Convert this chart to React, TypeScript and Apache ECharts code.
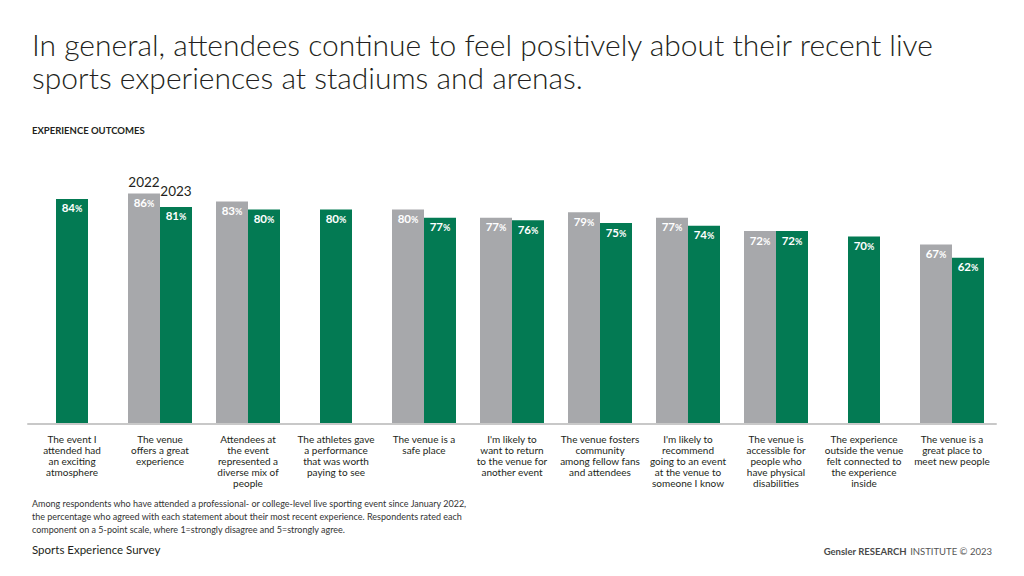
import React, { useEffect, useRef } from "react";
import * as echarts from "echarts";

const categories = [
  "The event I\nattended had\nan exciting\natmosphere",
  "The venue\noffers a great\nexperience",
  "Attendees at\nthe event\nrepresented a\ndiverse mix of\npeople",
  "The athletes gave\na performance\nthat was worth\npaying to see",
  "The venue is a\nsafe place",
  "I'm likely to\nwant to return\nto the venue for\nanother event",
  "The venue fosters\ncommunity\namong fellow fans\nand attendees",
  "I'm likely to\nrecommend\ngoing to an event\nat the venue to\nsomeone I know",
  "The venue is\naccessible for\npeople who\nhave physical\ndisabilities",
  "The experience\noutside the venue\nfelt connected to\nthe experience\ninside",
  "The venue is a\ngreat place to\nmeet new people",
];
const values2022: (number | null)[] = [null, 86, 83, null, 80, 77, 79, 77, 72, null, 67];
const values2023: number[] = [84, 81, 80, 80, 77, 76, 75, 74, 72, 70, 62];
const seriesNames = ["2022", "2023"];

const titleLines = [
  "In general, attendees continue to feel positively about their recent live",
  "sports experiences at stadiums and arenas.",
];
const subtitle = "EXPERIENCE OUTCOMES";
const noteLines = [
  "Among respondents who have attended a professional- or college-level live sporting event since January 2022,",
  "the percentage who agreed with each statement about their most recent experience. Respondents rated each",
  "component on a 5-point scale, where 1=strongly disagree and 5=strongly agree.",
];
const sourceText = "Sports Experience Survey";
const creditBold = "Gensler RESEARCH";
const creditRegular = "INSTITUTE © 2023";

const GREEN = "#037a53";
const GRAY = "#a7a8ab";
const INK = "#231f20";
const FONT = "Lato, 'Open Sans', sans-serif";

export default function App() {
  const ref = useRef<HTMLDivElement>(null);

  useEffect(() => {
    const chart = echarts.init(ref.current!, null, { renderer: "svg" });
    const paired2023 = values2023.map((v, i) => (values2022[i] == null ? null : v));
    const single2023 = values2023.map((v, i) => (values2022[i] == null ? v : null));

    const barLabel = {
      show: true,
      position: "insideTop",
      distance: 3,
      formatter: "{v|{c}}{p|%}",
      rich: {
        v: { fontSize: 11.5, fontWeight: "bold", color: "#fff", fontFamily: FONT },
        p: { fontSize: 9, fontWeight: "bold", color: "#fff", fontFamily: FONT, padding: [2, 0, 0, 0] },
      },
    };

    const yearMark = (idx: number, value: number | null, text: string, dist: number) => ({
      symbol: "circle",
      symbolSize: 0,
      silent: true,
      label: {
        show: true,
        position: "top",
        distance: dist,
        formatter: text,
        color: INK,
        fontSize: 13.5,
        fontFamily: FONT,
      },
      data: [{ coord: [categories[idx], value] }],
    });

    chart.setOption({
      animation: false,
      backgroundColor: "#fff",
      grid: { left: 28, right: 28, top: 156, bottom: 152 },
      xAxis: [
        {
          type: "category",
          data: categories,
          axisLine: { lineStyle: { color: "#c8c8c8", width: 2 } },
          axisTick: { show: false },
          axisLabel: {
            interval: 0,
            color: INK,
            fontSize: 10,
            lineHeight: 11,
            fontFamily: FONT,
            margin: 9,
          },
          z: 3,
        },
        { type: "category", data: categories, show: false },
      ],
      yAxis: { type: "value", min: 0, max: 100, show: false },
      series: [
        {
          name: seriesNames[0],
          type: "bar",
          xAxisIndex: 0,
          data: values2022,
          barWidth: 32,
          barGap: "0%",
          itemStyle: { color: GRAY },
          label: barLabel,
          markPoint: yearMark(1, values2022[1], seriesNames[0], 5),
        },
        {
          name: seriesNames[1],
          type: "bar",
          xAxisIndex: 0,
          data: paired2023,
          barWidth: 32,
          barGap: "0%",
          itemStyle: { color: GREEN },
          label: barLabel,
          markPoint: yearMark(1, paired2023[1], seriesNames[1], 9),
        },
        {
          name: seriesNames[1] + " only",
          type: "bar",
          xAxisIndex: 1,
          data: single2023,
          barWidth: 32,
          itemStyle: { color: GREEN },
          label: barLabel,
        },
      ],
      graphic: [
        {
          type: "text",
          left: 32,
          top: 27,
          style: {
            text: titleLines.join("\n"),
            fontSize: 30,
            fontWeight: 300,
            fontFamily: FONT,
            lineHeight: 33,
            fill: INK,
          },
        },
        {
          type: "text",
          left: 32,
          top: 125,
          style: { text: subtitle, fontSize: 9.5, fontWeight: "bold", fontFamily: FONT, fill: INK },
        },
        {
          type: "text",
          left: 32,
          top: 497,
          style: {
            text: noteLines.join("\n"),
            fontSize: 9,
            lineHeight: 13,
            fontFamily: FONT,
            fill: "#333",
          },
        },
        {
          type: "text",
          left: 32,
          top: 543,
          style: { text: sourceText, fontSize: 11.5, fontFamily: FONT, fill: INK },
        },
        {
          type: "text",
          right: 32,
          top: 545,
          style: {
            text: "{b|" + creditBold + "} {r|" + creditRegular + "}",
            rich: {
              b: { fontSize: 9.5, fontWeight: "bold", fontFamily: FONT, fill: "#4a4a4a", color: "#4a4a4a" },
              r: { fontSize: 9.5, fontFamily: FONT, fill: "#555", color: "#555" },
            },
          },
        },
      ],
    });
    return () => chart.dispose();
  }, []);

  return (
    <div
      ref={ref}
      style={{ position: "fixed", left: 0, top: 0, width: 1024, height: 576, background: "#fff" }}
    />
  );
}
